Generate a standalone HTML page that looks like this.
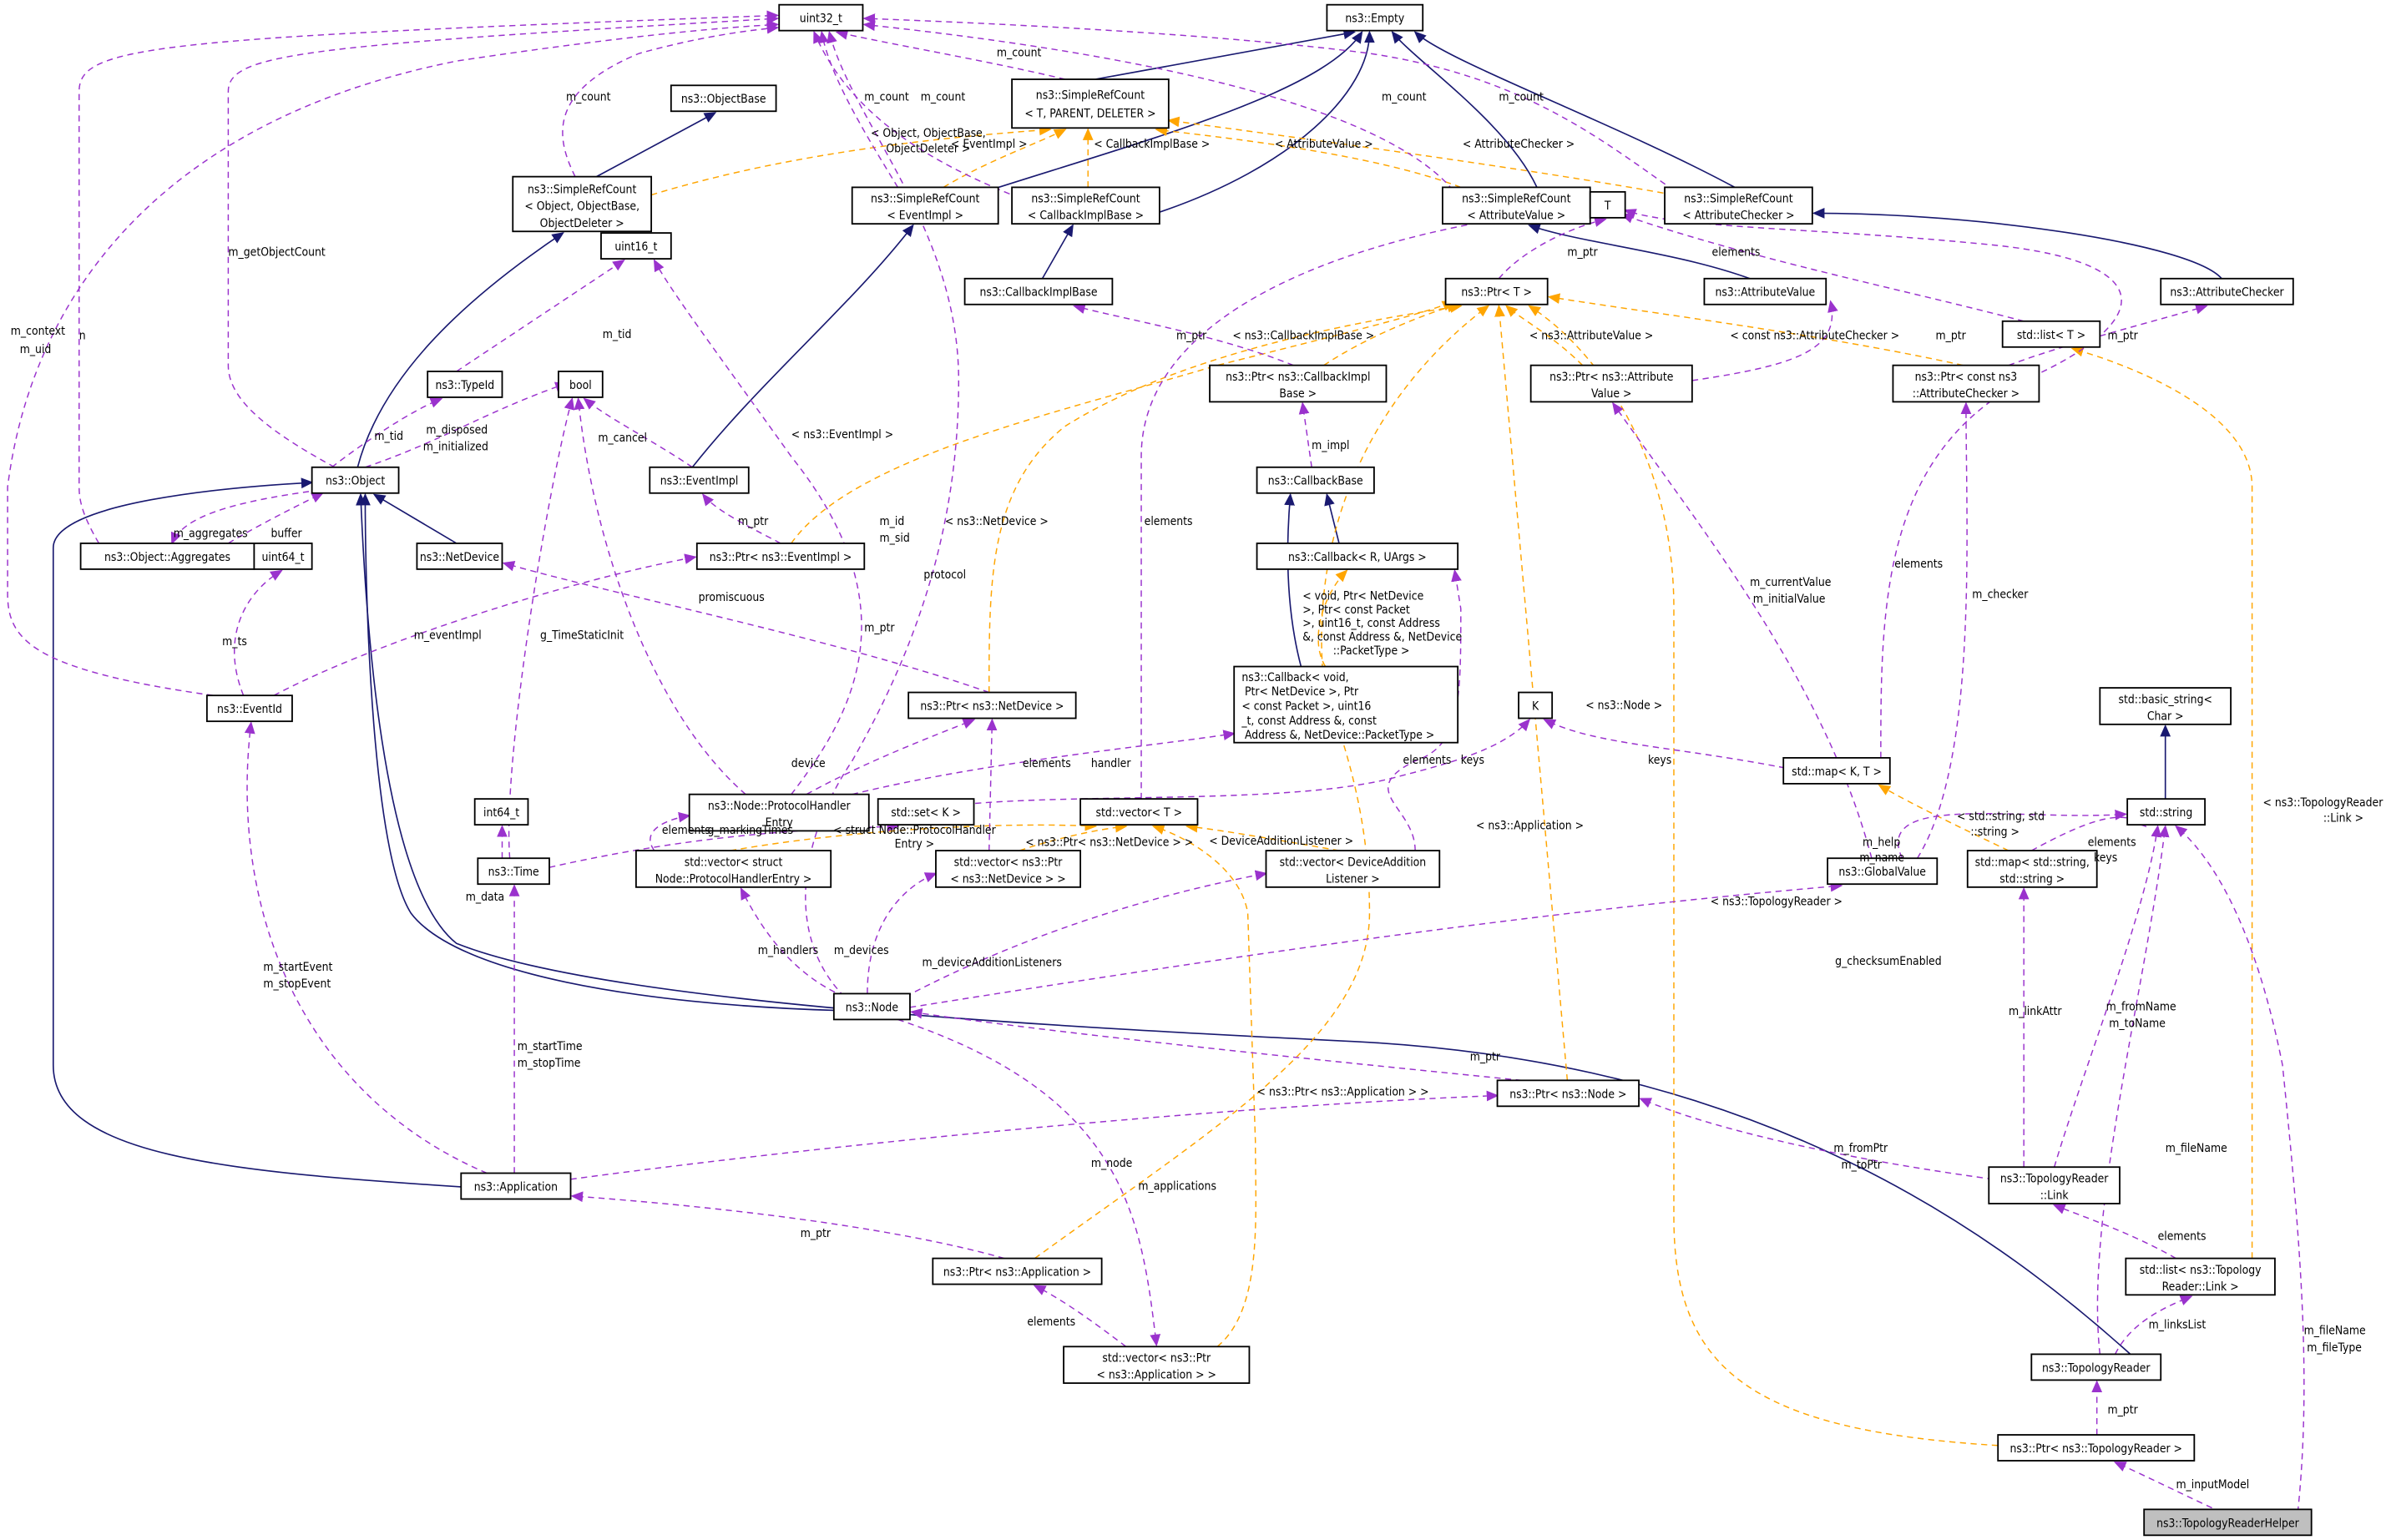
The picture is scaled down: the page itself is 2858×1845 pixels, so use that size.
<!DOCTYPE html>
<html><head><meta charset="utf-8"><style>
html,body{margin:0;padding:0;background:#fff}
svg{display:block}
text{font-family:"DejaVu Sans Condensed","DejaVu Sans","Liberation Sans",sans-serif;font-size:7.6px;fill:#000}
.b{fill:#fff;stroke:#000;stroke-width:1}
.p{fill:none;stroke:#9a32cd;stroke-width:.8;stroke-dasharray:4,3}
.o{fill:none;stroke:#ffa500;stroke-width:.8;stroke-dasharray:4,3}
.n{fill:none;stroke:#191970;stroke-width:.9}
</style></head><body>
<svg width="2858" height="1845" viewBox="0 0 1568 1012" xmlns="http://www.w3.org/2000/svg">
<defs>
<marker id="mp" markerWidth="8" markerHeight="8" refX="7" refY="4" orient="auto" markerUnits="userSpaceOnUse"><path d="M0,0.5 L8,4 L0,7.5z" fill="#9a32cd"/></marker>
<marker id="mo" markerWidth="8" markerHeight="8" refX="7" refY="4" orient="auto" markerUnits="userSpaceOnUse"><path d="M0,0.5 L8,4 L0,7.5z" fill="#ffa500"/></marker>
<marker id="mn" markerWidth="8" markerHeight="8" refX="7" refY="4" orient="auto" markerUnits="userSpaceOnUse"><path d="M0,0.5 L8,4 L0,7.5z" fill="#191970"/></marker>
</defs>

<g class="n" marker-end="url(#mn)">
<path d="M720,52 L890,21"/>
<path d="M650,125 C760,90 870,60 895,21"/>
<path d="M760,140 C850,110 900,60 900,21"/>
<path d="M1010,123 C990,80 930,40 915,21"/>
<path d="M1140,123 C1060,80 950,40 930,21"/>
<path d="M392,116 L470,74"/>
<path d="M235,307 C250,250 300,200 370,153"/>
<path d="M455,307 C500,250 560,200 600,148"/>
<path d="M685,183 L705,148"/>
<path d="M1150,183 C1100,165 1040,160 1005,148"/>
<path d="M1460,183 C1440,160 1300,140 1192,140"/>
<path d="M300,357 L246,325"/>
<path d="M548,664 C420,660 300,640 270,600 C245,560 240,400 240,325"/>
<path d="M303,780 C150,770 35,760 35,700 L35,360 C35,330 150,320 205,317"/>
<path d="M1400,890 C1300,800 1150,700 900,685 C700,675 400,660 300,620 C250,580 240,400 237,325"/>
<path d="M880,357 L872,325"/>
<path d="M855,438 C845,400 845,360 848,325"/>
<path d="M1423,525 L1423,477"/>
</g>

<g class="o" marker-end="url(#mo)">
<path d="M428,128 C520,100 620,90 690,85"/>
<path d="M620,123 C650,105 680,95 700,85"/>
<path d="M715,123 L715,85"/>
<path d="M960,123 C900,100 800,90 760,85"/>
<path d="M1100,128 C1000,110 850,90 768,79"/>
<path d="M870,240 C900,220 940,205 958,200"/>
<path d="M1040,240 C1020,220 1000,210 990,201"/>
<path d="M1290,240 C1200,220 1080,205 1018,195"/>
<path d="M520,357 C560,300 700,270 800,240 C880,220 940,205 955,198"/>
<path d="M650,455 C650,380 650,320 700,280 C780,230 900,210 960,201"/>
<path d="M1030,710 L985,201"/>
<path d="M680,827 C800,740 900,680 900,600 C900,530 880,480 870,450 C860,350 900,260 978,201"/>
<path d="M1313,950 C1150,940 1100,900 1100,800 L1100,400 C1100,300 1050,230 1005,201"/>
<path d="M1480,827 L1480,320 C1480,270 1400,240 1362,229"/>
<path d="M480,559 C560,545 660,540 720,543"/>
<path d="M670,559 C690,552 720,545 740,543"/>
<path d="M880,559 C840,552 800,545 780,543"/>
<path d="M800,885 C830,860 825,800 825,750 L820,600 C815,570 780,550 758,543"/>
<path d="M1320,559 C1280,540 1250,525 1235,516"/>
<path d="M871,438 C860,420 870,390 885,375"/>
</g>

<g class="p" marker-end="url(#mp)">
<path d="M220,307 C170,280 150,260 150,240 L150,60 C150,35 200,30 511,12"/>
<path d="M65,357 C55,340 52,330 52,320 L52,60 C52,30 100,25 511,10"/>
<path d="M140,457 C20,440 5,420 5,390 L5,320 C20,200 100,80 300,40 C400,25 470,18 511,16"/>
<path d="M378,116 C365,90 360,60 420,35 C460,24 490,20 511,18"/>
<path d="M700,52 C650,40 580,28 550,21"/>
<path d="M590,123 C570,90 545,50 540,21"/>
<path d="M670,130 C620,110 560,80 535,21"/>
<path d="M955,125 C900,60 700,30 568,16"/>
<path d="M1100,125 C1050,90 1000,50 900,35 C800,22 650,15 568,12"/>
<path d="M555,655 C520,620 520,560 560,500 C600,430 630,350 630,250 C630,150 560,80 545,21"/>
<path d="M300,244 L410,171"/>
<path d="M520,522 C560,470 600,400 520,300 C470,230 440,190 430,171"/>
<path d="M218,307 C240,290 270,270 290,262"/>
<path d="M240,307 C290,290 320,270 372,252"/>
<path d="M455,307 C430,290 400,275 384,262"/>
<path d="M335,564 C330,500 360,320 376,262"/>
<path d="M490,522 C430,470 390,360 380,262"/>
<path d="M210,322 C150,330 120,340 113,357"/>
<path d="M150,357 C170,345 190,335 212,324"/>
<path d="M160,457 C145,420 160,390 185,375"/>
<path d="M180,457 C250,420 380,380 457,366"/>
<path d="M513,357 C490,345 470,335 462,325"/>
<path d="M650,455 C550,420 400,390 331,370"/>
<path d="M530,522 C570,500 610,485 640,473"/>
<path d="M560,522 C650,500 760,490 811,482"/>
<path d="M620,530 C700,520 850,530 920,510 C960,500 990,490 1005,473"/>
<path d="M1180,506 C1100,490 1050,490 1015,473"/>
<path d="M930,559 C930,530 890,520 930,500 C960,490 960,460 960,400 L956,375"/>
<path d="M430,559 C420,545 440,538 453,536"/>
<path d="M361,570 C450,550 520,545 590,543"/>
<path d="M330,564 L330,543"/>
<path d="M650,559 L652,473"/>
<path d="M555,655 C520,640 500,610 487,584"/>
<path d="M570,653 C570,600 600,580 615,574"/>
<path d="M595,655 C700,600 800,580 832,574"/>
<path d="M598,662 C800,630 1000,600 1210,582"/>
<path d="M1000,710 C900,700 700,680 599,665"/>
<path d="M375,775 C600,745 850,725 984,720"/>
<path d="M590,670 C740,720 750,800 760,884"/>
<path d="M660,827 C600,810 500,795 376,786"/>
<path d="M740,885 C720,870 700,855 680,845"/>
<path d="M320,771 C200,720 150,600 165,475"/>
<path d="M338,771 L338,582"/>
<path d="M985,183 C1000,165 1030,150 1055,144"/>
<path d="M1330,211 C1250,190 1150,170 1066,141"/>
<path d="M1236,498 C1236,400 1236,300 1330,250 C1420,210 1420,170 1300,160 C1200,150 1100,150 1068,138"/>
<path d="M750,525 L750,300 C750,200 900,150 1045,136"/>
<path d="M850,240 C800,220 740,210 706,201"/>
<path d="M862,307 L856,265"/>
<path d="M1112,250 C1180,240 1210,230 1203,198"/>
<path d="M1320,240 C1360,225 1420,210 1450,201"/>
<path d="M1230,564 C1200,450 1120,350 1060,265"/>
<path d="M1260,564 C1300,500 1292,350 1292,265"/>
<path d="M1250,564 C1230,520 1330,540 1397,535"/>
<path d="M1335,559 C1370,540 1395,530 1410,543"/>
<path d="M1350,767 C1370,700 1410,600 1418,543"/>
<path d="M1330,767 L1330,584"/>
<path d="M1310,775 C1200,760 1120,740 1078,722"/>
<path d="M1430,827 C1400,810 1370,800 1350,792"/>
<path d="M1390,890 C1400,870 1420,860 1440,852"/>
<path d="M1380,890 C1370,800 1410,650 1423,543"/>
<path d="M1378,943 L1378,908"/>
<path d="M1460,994 C1430,980 1410,970 1390,961"/>
<path d="M1510,994 C1520,900 1510,800 1500,700 C1480,600 1450,560 1430,543"/>
</g>

<g>
<rect class="b" x="512" y="3" width="55" height="17"/><text x="539.5" y="14.5" text-anchor="middle">uint32_t</text>
<rect class="b" x="872" y="3" width="63" height="17"/><text x="903.5" y="14.5" text-anchor="middle">ns3::Empty</text>
<rect class="b" x="441" y="56" width="69" height="17"/><text x="475.5" y="67.5" text-anchor="middle">ns3::ObjectBase</text>
<rect class="b" x="665" y="52" width="103" height="32"/><text x="716.5" y="65" text-anchor="middle">ns3::SimpleRefCount</text><text x="716.5" y="77" text-anchor="middle">&lt; T, PARENT, DELETER &gt;</text>
<rect class="b" x="337" y="116" width="91" height="36"/><text x="382.5" y="127" text-anchor="middle">ns3::SimpleRefCount</text><text x="382.5" y="138" text-anchor="middle">&lt; Object, ObjectBase,</text><text x="382.5" y="149" text-anchor="middle">ObjectDeleter &gt;</text>
<rect class="b" x="560" y="123" width="96" height="24"/><text x="608" y="133" text-anchor="middle">ns3::SimpleRefCount</text><text x="608" y="144" text-anchor="middle">&lt; EventImpl &gt;</text>
<rect class="b" x="665" y="123" width="97" height="24"/><text x="713.5" y="133" text-anchor="middle">ns3::SimpleRefCount</text><text x="713.5" y="144" text-anchor="middle">&lt; CallbackImplBase &gt;</text>
<rect class="b" x="948" y="123" width="97" height="24"/><text x="996.5" y="133" text-anchor="middle">ns3::SimpleRefCount</text><text x="996.5" y="144" text-anchor="middle">&lt; AttributeValue &gt;</text>
<rect class="b" x="1094" y="123" width="97" height="24"/><text x="1142.5" y="133" text-anchor="middle">ns3::SimpleRefCount</text><text x="1142.5" y="144" text-anchor="middle">&lt; AttributeChecker &gt;</text>
<rect class="b" x="1045" y="126" width="23" height="17"/><text x="1056.5" y="137.5" text-anchor="middle">T</text>
<rect class="b" x="634" y="183" width="97" height="17"/><text x="682.5" y="194.5" text-anchor="middle">ns3::CallbackImplBase</text>
<rect class="b" x="1120" y="183" width="80" height="17"/><text x="1160" y="194.5" text-anchor="middle">ns3::AttributeValue</text>
<rect class="b" x="1420" y="183" width="87" height="17"/><text x="1463.5" y="194.5" text-anchor="middle">ns3::AttributeChecker</text>
<rect class="b" x="950" y="183" width="67" height="17"/><text x="983.5" y="194.5" text-anchor="middle">ns3::Ptr&lt; T &gt;</text>
<rect class="b" x="1316" y="211" width="64" height="17"/><text x="1348" y="222.5" text-anchor="middle">std::list&lt; T &gt;</text>
<rect class="b" x="395" y="153" width="46" height="17"/><text x="418" y="164.5" text-anchor="middle">uint16_t</text>
<rect class="b" x="281" y="244" width="49" height="17"/><text x="305.5" y="255.5" text-anchor="middle">ns3::TypeId</text>
<rect class="b" x="367" y="244" width="29" height="17"/><text x="381.5" y="255.5" text-anchor="middle">bool</text>
<rect class="b" x="205" y="307" width="57" height="17"/><text x="233.5" y="318.5" text-anchor="middle">ns3::Object</text>
<rect class="b" x="795" y="240" width="116" height="24"/><text x="853" y="250" text-anchor="middle">ns3::Ptr&lt; ns3::CallbackImpl</text><text x="853" y="261" text-anchor="middle">Base &gt;</text>
<rect class="b" x="1006" y="240" width="106" height="24"/><text x="1059" y="250" text-anchor="middle">ns3::Ptr&lt; ns3::Attribute</text><text x="1059" y="261" text-anchor="middle">Value &gt;</text>
<rect class="b" x="1244" y="240" width="96" height="24"/><text x="1292" y="250" text-anchor="middle">ns3::Ptr&lt; const ns3</text><text x="1292" y="261" text-anchor="middle">::AttributeChecker &gt;</text>
<rect class="b" x="826" y="307" width="77" height="17"/><text x="864.5" y="318.5" text-anchor="middle">ns3::CallbackBase</text>
<rect class="b" x="427" y="307" width="65" height="17"/><text x="459.5" y="318.5" text-anchor="middle">ns3::EventImpl</text>
<rect class="b" x="53" y="357" width="114" height="17"/><text x="110" y="368.5" text-anchor="middle">ns3::Object::Aggregates</text>
<rect class="b" x="167" y="357" width="38" height="17"/><text x="186" y="368.5" text-anchor="middle">uint64_t</text>
<rect class="b" x="274" y="357" width="56" height="17"/><text x="302" y="368.5" text-anchor="middle">ns3::NetDevice</text>
<rect class="b" x="458" y="357" width="110" height="17"/><text x="513" y="368.5" text-anchor="middle">ns3::Ptr&lt; ns3::EventImpl &gt;</text>
<rect class="b" x="826" y="357" width="132" height="17"/><text x="892" y="368.5" text-anchor="middle">ns3::Callback&lt; R, UArgs &gt;</text>
<rect class="b" x="136" y="457" width="56" height="17"/><text x="164" y="468.5" text-anchor="middle">ns3::EventId</text>
<rect class="b" x="597" y="455" width="110" height="17"/><text x="652" y="466.5" text-anchor="middle">ns3::Ptr&lt; ns3::NetDevice &gt;</text>
<rect class="b" x="811" y="438" width="147" height="50"/>
<text x="816" y="447.5">ns3::Callback&lt; void,</text><text x="818" y="457">Ptr&lt; NetDevice &gt;, Ptr</text><text x="816" y="466.5">&lt; const Packet &gt;, uint16</text><text x="816" y="476">_t, const Address &amp;, const</text><text x="818" y="485.5">Address &amp;, NetDevice::PacketType &gt;</text>
<rect class="b" x="998" y="455" width="22" height="17"/><text x="1009" y="466.5" text-anchor="middle">K</text>
<rect class="b" x="453" y="522" width="118" height="24"/><text x="512" y="532" text-anchor="middle">ns3::Node::ProtocolHandler</text><text x="512" y="543" text-anchor="middle">Entry</text>
<rect class="b" x="577" y="525" width="63" height="17"/><text x="608.5" y="536.5" text-anchor="middle">std::set&lt; K &gt;</text>
<rect class="b" x="710" y="525" width="77" height="17"/><text x="748.5" y="536.5" text-anchor="middle">std::vector&lt; T &gt;</text>
<rect class="b" x="312" y="525" width="35" height="17"/><text x="329.5" y="536.5" text-anchor="middle">int64_t</text>
<rect class="b" x="1380" y="452" width="86" height="24"/><text x="1423" y="462" text-anchor="middle">std::basic_string&lt;</text><text x="1423" y="473" text-anchor="middle">Char &gt;</text>
<rect class="b" x="1398" y="525" width="51" height="17"/><text x="1423.5" y="536.5" text-anchor="middle">std::string</text>
<rect class="b" x="1172" y="498" width="70" height="17"/><text x="1207" y="509.5" text-anchor="middle">std::map&lt; K, T &gt;</text>
<rect class="b" x="314" y="564" width="47" height="17"/><text x="337.5" y="575.5" text-anchor="middle">ns3::Time</text>
<rect class="b" x="418" y="559" width="128" height="24"/><text x="482" y="569" text-anchor="middle">std::vector&lt; struct</text><text x="482" y="580" text-anchor="middle">Node::ProtocolHandlerEntry &gt;</text>
<rect class="b" x="615" y="559" width="95" height="24"/><text x="662.5" y="569" text-anchor="middle">std::vector&lt; ns3::Ptr</text><text x="662.5" y="580" text-anchor="middle">&lt; ns3::NetDevice &gt; &gt;</text>
<rect class="b" x="832" y="559" width="114" height="24"/><text x="889" y="569" text-anchor="middle">std::vector&lt; DeviceAddition</text><text x="889" y="580" text-anchor="middle">Listener &gt;</text>
<rect class="b" x="1201" y="564" width="72" height="17"/><text x="1237" y="575.5" text-anchor="middle">ns3::GlobalValue</text>
<rect class="b" x="1293" y="559" width="85" height="24"/><text x="1335.5" y="569" text-anchor="middle">std::map&lt; std::string,</text><text x="1335.5" y="580" text-anchor="middle">std::string &gt;</text>
<rect class="b" x="548" y="653" width="50" height="17"/><text x="573" y="664.5" text-anchor="middle">ns3::Node</text>
<rect class="b" x="984" y="710" width="93" height="17"/><text x="1030.5" y="721.5" text-anchor="middle">ns3::Ptr&lt; ns3::Node &gt;</text>
<rect class="b" x="303" y="771" width="72" height="17"/><text x="339" y="782.5" text-anchor="middle">ns3::Application</text>
<rect class="b" x="1307" y="767" width="86" height="24"/><text x="1350" y="777" text-anchor="middle">ns3::TopologyReader</text><text x="1350" y="788" text-anchor="middle">::Link</text>
<rect class="b" x="1397" y="827" width="98" height="24"/><text x="1446" y="837" text-anchor="middle">std::list&lt; ns3::Topology</text><text x="1446" y="848" text-anchor="middle">Reader::Link &gt;</text>
<rect class="b" x="613" y="827" width="111" height="17"/><text x="668.5" y="838.5" text-anchor="middle">ns3::Ptr&lt; ns3::Application &gt;</text>
<rect class="b" x="699" y="885" width="122" height="24"/><text x="760" y="895" text-anchor="middle">std::vector&lt; ns3::Ptr</text><text x="760" y="906" text-anchor="middle">&lt; ns3::Application &gt; &gt;</text>
<rect class="b" x="1335" y="890" width="85" height="17"/><text x="1377.5" y="901.5" text-anchor="middle">ns3::TopologyReader</text>
<rect class="b" x="1313" y="943" width="129" height="17"/><text x="1377.5" y="954.5" text-anchor="middle">ns3::Ptr&lt; ns3::TopologyReader &gt;</text>
<rect x="1409" y="992" width="110" height="17" fill="#bfbfbf" stroke="#000"/><text x="1464" y="1003.5" text-anchor="middle">ns3::TopologyReaderHelper</text>
</g>

<g>
<text x="655" y="37">m_count</text>
<text x="372" y="66">m_count</text>
<text x="568" y="66">m_count</text>
<text x="605" y="66">m_count</text>
<text x="908" y="66">m_count</text>
<text x="985" y="66">m_count</text>
<text x="150" y="168">m_getObjectCount</text>
<text x="52" y="223">n</text>
<text x="7" y="220">m_context</text><text x="13" y="232">m_uid</text>
<text x="610" y="90" text-anchor="middle">&lt; Object, ObjectBase,</text><text x="610" y="100" text-anchor="middle">ObjectDeleter &gt;</text>
<text x="650" y="97" text-anchor="middle">&lt; EventImpl &gt;</text>
<text x="757" y="97" text-anchor="middle">&lt; CallbackImplBase &gt;</text>
<text x="870" y="97" text-anchor="middle">&lt; AttributeValue &gt;</text>
<text x="998" y="97" text-anchor="middle">&lt; AttributeChecker &gt;</text>
<text x="396" y="222">m_tid</text>
<text x="246" y="289">m_tid</text>
<text x="280" y="285">m_disposed</text><text x="278" y="296">m_initialized</text>
<text x="393" y="290">m_cancel</text>
<text x="114" y="353">m_aggregates</text>
<text x="178" y="353">buffer</text>
<text x="146" y="424">m_ts</text>
<text x="272" y="420">m_eventImpl</text>
<text x="485" y="345">m_ptr</text>
<text x="355" y="420">g_TimeStaticInit</text>
<text x="459" y="395">promiscuous</text>
<text x="607" y="380">protocol</text>
<text x="578" y="345">m_id</text><text x="578" y="356">m_sid</text>
<text x="568" y="415">m_ptr</text>
<text x="520" y="288">&lt; ns3::EventImpl &gt;</text>
<text x="621" y="345">&lt; ns3::NetDevice &gt;</text>
<text x="752" y="345">elements</text>
<text x="773" y="223">m_ptr</text>
<text x="810" y="223">&lt; ns3::CallbackImplBase &gt;</text>
<text x="1005" y="223">&lt; ns3::AttributeValue &gt;</text>
<text x="1137" y="223">&lt; const ns3::AttributeChecker &gt;</text>
<text x="1272" y="223">m_ptr</text>
<text x="1385" y="223">m_ptr</text>
<text x="1030" y="168">m_ptr</text>
<text x="1125" y="168">elements</text>
<text x="862" y="295">m_impl</text>
<text x="1245" y="373">elements</text>
<text x="1150" y="385">m_currentValue</text><text x="1152" y="396">m_initialValue</text>
<text x="1296" y="393">m_checker</text>
<text x="856" y="394">&lt; void, Ptr&lt; NetDevice</text><text x="856" y="403">&gt;, Ptr&lt; const Packet</text><text x="856" y="412">&gt;, uint16_t, const Address</text><text x="856" y="421">&amp;, const Address &amp;, NetDevice</text><text x="876" y="430">::PacketType &gt;</text>
<text x="1042" y="466">&lt; ns3::Node &gt;</text>
<text x="922" y="502">elements</text>
<text x="960" y="502">keys</text>
<text x="1083" y="502">keys</text>
<text x="520" y="504">device</text>
<text x="717" y="504">handler</text>
<text x="672" y="504">elements</text>
<text x="970" y="545">&lt; ns3::Application &gt;</text>
<text x="435" y="548">elements</text>
<text x="465" y="548">g_markingTimes</text>
<text x="601" y="548" text-anchor="middle">&lt; struct Node::ProtocolHandler</text><text x="601" y="557" text-anchor="middle">Entry &gt;</text>
<text x="842" y="555" text-anchor="middle">&lt; DeviceAdditionListener &gt;</text>
<text x="729" y="556" text-anchor="middle">&lt; ns3::Ptr&lt; ns3::NetDevice &gt; &gt;</text>
<text x="1124" y="595">&lt; ns3::TopologyReader &gt;</text>
<text x="1286" y="539">&lt; std::string, std</text><text x="1295" y="549">::string &gt;</text>
<text x="1224" y="556">m_help</text><text x="1222" y="566">m_name</text>
<text x="1372" y="556">elements</text><text x="1376" y="566">keys</text>
<text x="1566" y="530" text-anchor="end">&lt; ns3::TopologyReader</text><text x="1540" y="540" text-anchor="middle">::Link &gt;</text>
<text x="1206" y="634">g_checksumEnabled</text>
<text x="306" y="592">m_data</text>
<text x="498" y="627">m_handlers</text>
<text x="548" y="627">m_devices</text>
<text x="606" y="635">m_deviceAdditionListeners</text>
<text x="173" y="638">m_startEvent</text><text x="173" y="649">m_stopEvent</text>
<text x="340" y="690">m_startTime</text><text x="340" y="701">m_stopTime</text>
<text x="966" y="697">m_ptr</text>
<text x="717" y="767">m_node</text>
<text x="826" y="720">&lt; ns3::Ptr&lt; ns3::Application &gt; &gt;</text>
<text x="748" y="782">m_applications</text>
<text x="526" y="813">m_ptr</text>
<text x="675" y="871">elements</text>
<text x="1205" y="757">m_fromPtr</text><text x="1210" y="768">m_toPtr</text>
<text x="1320" y="667">m_linkAttr</text>
<text x="1384" y="664">m_fromName</text><text x="1386" y="675">m_toName</text>
<text x="1423" y="757">m_fileName</text>
<text x="1418" y="815">elements</text>
<text x="1412" y="873">m_linksList</text>
<text x="1385" y="929">m_ptr</text>
<text x="1430" y="978">m_inputModel</text>
<text x="1514" y="877">m_fileName</text><text x="1516" y="888">m_fileType</text>
</g>
</svg>
</body></html>
